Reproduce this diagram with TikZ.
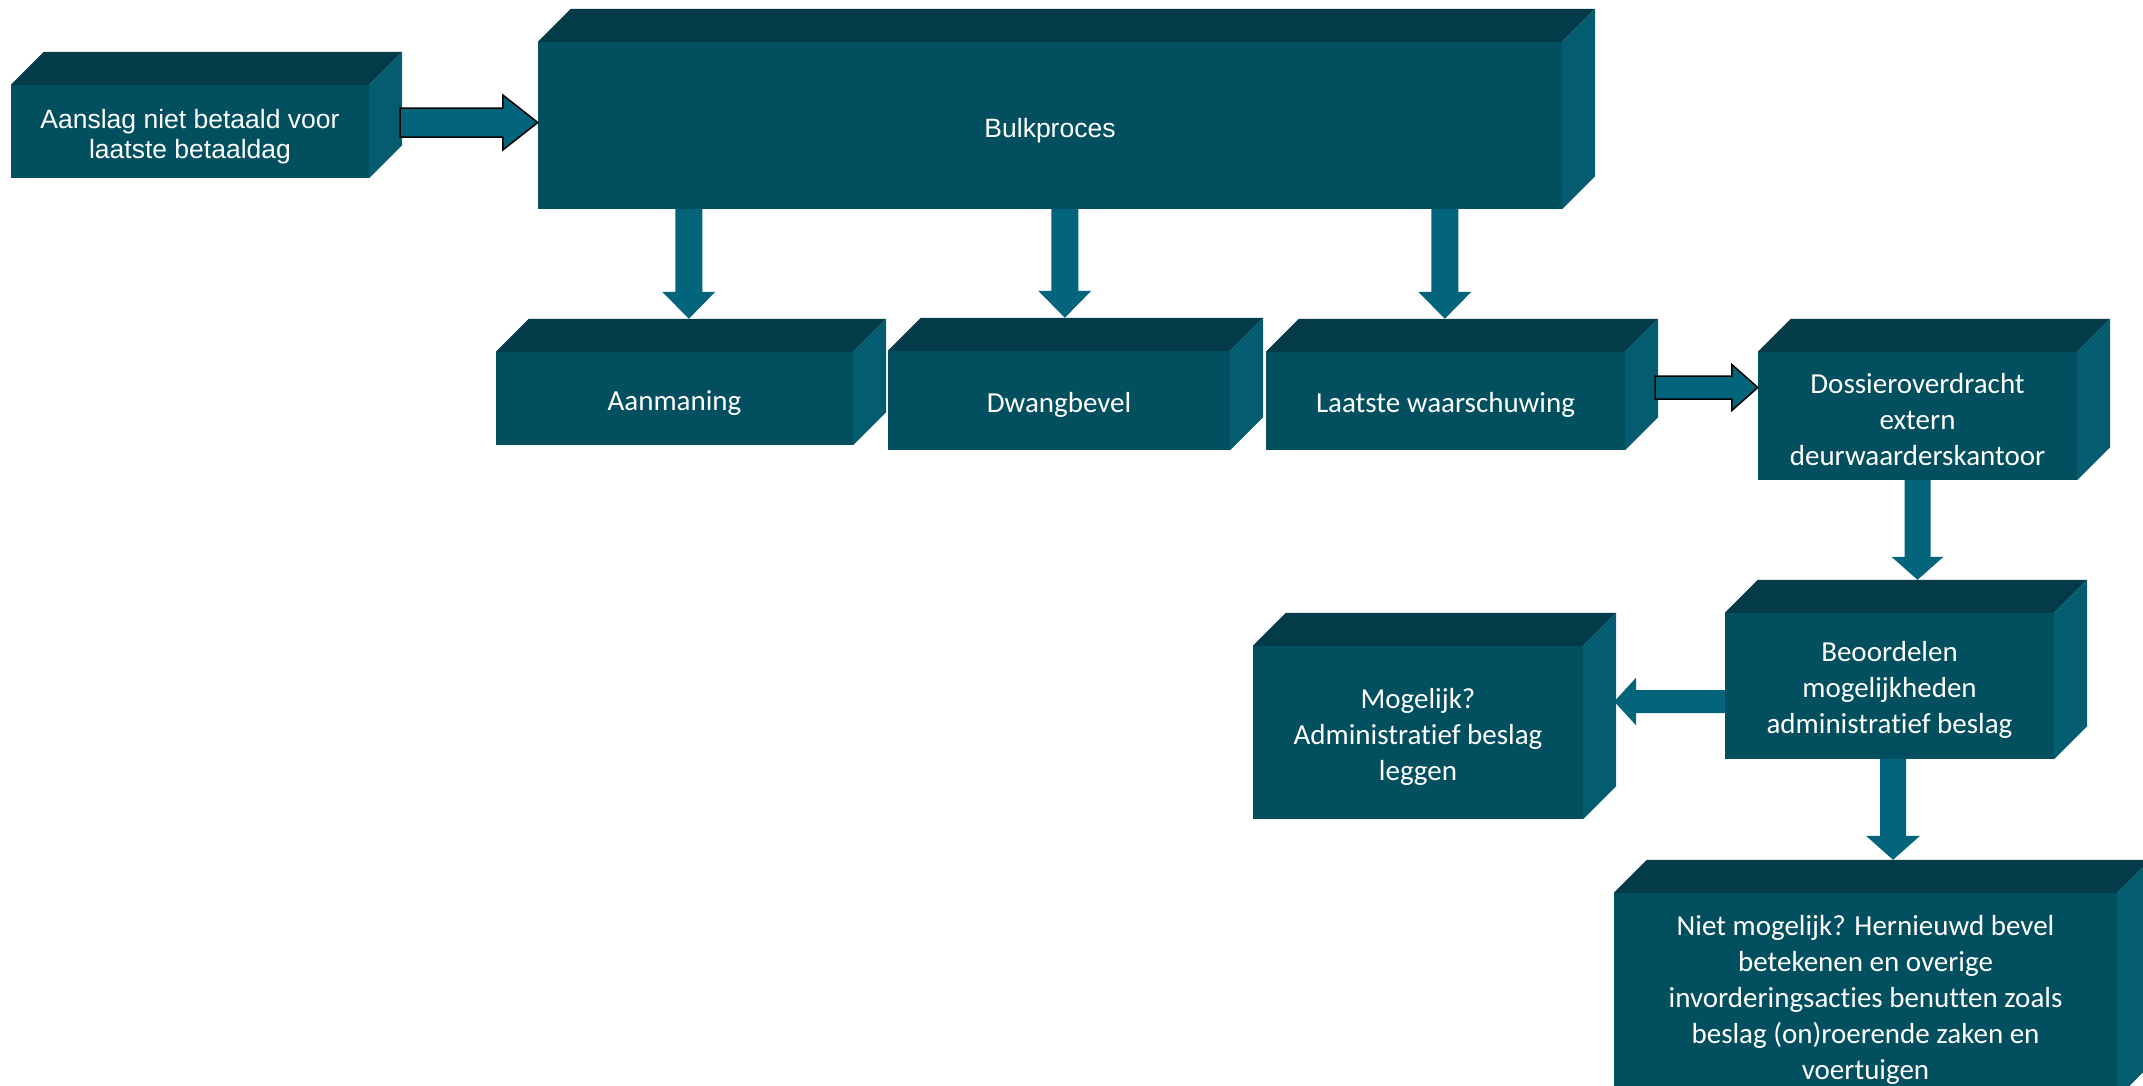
\documentclass[tikz,border=0pt]{standalone}
\usepackage{fontspec}
\setmainfont{Carlito}[Ligatures=NoCommon]
\newfontfamily\arialfont{Liberation Sans}
\usetikzlibrary{calc}

\definecolor{voorkant}{RGB}{2,79,96}
\definecolor{bovenkant}{RGB}{3,59,72}
\definecolor{zijkant}{RGB}{4,92,112}
\definecolor{pijlkleur}{RGB}{3,101,124}

\tikzset{
  blok/.style={rectangle, fill=voorkant, text=white, inner sep=0pt, align=center,
    font=\fontsize{29}{36}\selectfont},
  blokarial/.style={blok, font=\arialfont\fontsize{26.5}{30}\selectfont},
  pijlvlak/.style={fill=pijlkleur},
  pijlrand/.style={fill=pijlkleur, draw=black, line width=1.5pt},
}

% steun in de eerste regel: tekst iets lager in het vlak
\newcommand{\steun}[1][28pt]{\rule{0pt}{#1}}

% dikke pijl van #2 naar #3: halve schacht #4, halve kop #5, koplengte #6
\newcommand{\pijl}[6][pijlvlak]{
  \coordinate (kop) at ($(#3)!#6!(#2)$);
  \path[#1] ($(#2)!#4!90:(#3)$) -- ($(kop)!#4!-90:(#2)$) -- ($(kop)!#5!-90:(#2)$)
    -- (#3) -- ($(kop)!#5!90:(#2)$) -- ($(kop)!#4!90:(#2)$) -- ($(#2)!#4!-90:(#3)$) -- cycle;
}

\begin{document}
\begin{tikzpicture}[x=1pt, y=-1pt]
  \def\diepte{33}
  \useasboundingbox (0,0) rectangle (2143,1085);
  \clip (0,0) rectangle (2143,1085);

  % voorkanten
  \node[blokarial, minimum width=358pt, minimum height=93pt] (aanslag) at (190,131.5)
    {\steun[30pt]Aanslag niet betaald voor\\laatste betaaldag};
  \node[blokarial, minimum width=1024pt, minimum height=167pt] (bulk) at (1050,125.5) {\steun[30pt]Bulkproces};
  \node[blok, minimum width=357pt, minimum height=93pt] (aanmaning) at (674.5,398.5) {\steun Aanmaning};
  \node[blok, minimum width=342pt, minimum height=99pt] (dwang) at (1059,400.5) {\steun Dwangbevel};
  \node[blok, minimum width=359pt, minimum height=98pt] (laatste) at (1445.5,401) {\steun Laatste waarschuwing};
  \node[blok, minimum width=319pt, minimum height=128pt] (dossier) at (1917.5,416)
    {\steun Dossieroverdracht\\extern\\deurwaarderskantoor};
  \node[blok, minimum width=329pt, minimum height=146pt] (beoord) at (1889.5,686)
    {\steun Beoordelen\\mogelijkheden\\administratief beslag};
  \node[blok, minimum width=330pt, minimum height=173pt] (mogelijk) at (1418,732.5)
    {\steun Mogelijk?\\Administratief beslag\\leggen};
  \node[blok, minimum width=503pt, minimum height=205pt] (niet) at (1865.5,995.5)
    {\steun Niet mogelijk? Hernieuwd bevel\\betekenen en overige\\invorderingsacties benutten zoals\\beslag (on)roerende zaken en\\voertuigen};

  % boven- en zijkanten
  \foreach \n in {aanslag,bulk,aanmaning,dwang,laatste,dossier,beoord,mogelijk,niet} {
    \fill[bovenkant] (\n.north west) -- ++(\diepte,-\diepte)
      -- ($(\n.north east)+(\diepte,-\diepte)$) -- (\n.north east) -- cycle;
    \fill[zijkant] (\n.north east) -- ++(\diepte,-\diepte)
      -- ($(\n.south east)+(\diepte,-\diepte)$) -- (\n.south east) -- cycle;
    \coordinate (\n-top) at ($(\n.north)+(\diepte,-\diepte)$);
  }

  % pijlen
  \coordinate (a0) at ($(aanslag.east)+(31,-9)$);
  \coordinate (a1) at (bulk.west |- a0);
  \pijl[pijlrand]{a0}{a1}{14.5pt}{27.5pt}{35pt}

  \coordinate (b1) at ($(bulk.south west)+(151,0)$);
  \coordinate (b2) at ($(bulk.south west)+(527,0)$);
  \coordinate (b3) at ($(bulk.south west)+(907,0)$);
  \coordinate (c1) at (b1 |- aanmaning-top);
  \coordinate (c2) at (b2 |- dwang-top);
  \coordinate (c3) at (b3 |- laatste-top);
  \pijl{b1}{c1}{13.5pt}{26.5pt}{27pt}
  \pijl{b2}{c2}{13.5pt}{26.5pt}{27pt}
  \pijl{b3}{c3}{13.5pt}{26.5pt}{27pt}

  \coordinate (l0) at ($(laatste.east)+(30,-13.5)$);
  \coordinate (l1) at (dossier.west |- l0);
  \pijl[pijlrand]{l0}{l1}{11.5pt}{23pt}{26pt}

  \coordinate (d1) at (dossier.south |- beoord-top);
  \pijl{dossier.south}{d1}{13pt}{26pt}{23pt}

  \coordinate (o0) at ($(beoord.west)+(0,15.5)$);
  \coordinate (m0) at ($(mogelijk.east)+(31,0)$);
  \coordinate (o1) at (m0 |- o0);
  \pijl{o0}{o1}{11.5pt}{24pt}{22pt}

  \coordinate (o2) at ($(beoord.south)+(3.5,0)$);
  \coordinate (n1) at (o2 |- niet-top);
  \pijl{o2}{n1}{13pt}{27pt}{24pt}
\end{tikzpicture}
\end{document}
